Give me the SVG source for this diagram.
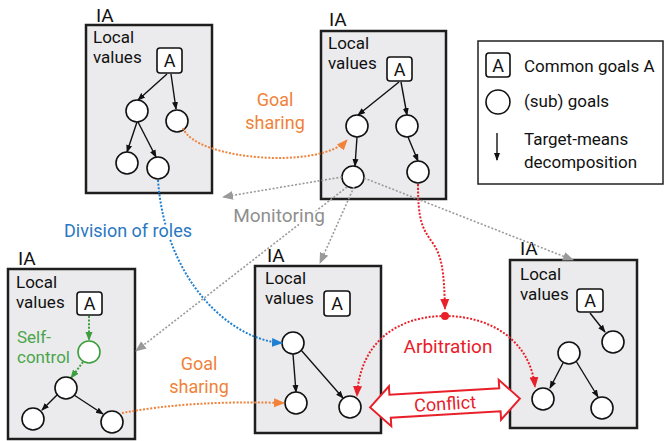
<svg xmlns="http://www.w3.org/2000/svg" width="666" height="441" viewBox="0 0 666 441">
<defs>
<style>
text{font-family:Roboto,"Liberation Sans",sans-serif}
.box{fill:#ebebed;stroke:#1e1e1e;stroke-width:2.5}
.ia{font-size:19px;fill:#111}
.lv{font-size:17px;fill:#111}
.ab{fill:#fff;stroke:#111;stroke-width:1.6}
.at{font-size:18px;fill:#111;text-anchor:middle}
.g{fill:#fff;stroke:#111;stroke-width:1.6}
.tr{fill:none;stroke:#111;stroke-width:1.4;marker-end:url(#mk)}
.or{fill:none;stroke:#f0823a;stroke-width:2;stroke-dasharray:2 1.6;marker-end:url(#mo)}
.bl{fill:none;stroke:#1f7fd0;stroke-width:2;stroke-dasharray:2 1.6;marker-end:url(#mb)}
.gr{fill:none;stroke:#9a9a9a;stroke-width:1.6;stroke-dasharray:2 1.8;marker-end:url(#mg)}
.rd{fill:none;stroke:#e8202a;stroke-width:2;stroke-dasharray:2 1.6;marker-end:url(#mr)}
.gn{fill:none;stroke:#3e9e3e;stroke-width:2;stroke-dasharray:2 1.6;marker-end:url(#mn)}
.lab{font-size:18px;text-anchor:middle}
.halo{stroke:#fff;stroke-width:4;paint-order:stroke}
</style>
<marker id="mk" markerWidth="8" markerHeight="8" refX="7" refY="4" orient="auto" markerUnits="userSpaceOnUse"><path d="M0,1 L8,4 L0,7 z" fill="#111"/></marker>
<marker id="mo" markerWidth="12" markerHeight="12" refX="10" refY="6" orient="auto" markerUnits="userSpaceOnUse"><path d="M0,1.5 L11,6 L0,10.5 z" fill="#f0823a"/></marker>
<marker id="mb" markerWidth="12" markerHeight="12" refX="10" refY="6" orient="auto" markerUnits="userSpaceOnUse"><path d="M0,1.5 L11,6 L0,10.5 z" fill="#1f7fd0"/></marker>
<marker id="mg" markerWidth="12" markerHeight="12" refX="10" refY="6" orient="auto" markerUnits="userSpaceOnUse"><path d="M0,1.5 L11,6 L0,10.5 z" fill="#9a9a9a"/></marker>
<marker id="mr" markerWidth="12" markerHeight="12" refX="10" refY="6" orient="auto" markerUnits="userSpaceOnUse"><path d="M0,1.5 L11,6 L0,10.5 z" fill="#e8202a"/></marker>
<marker id="mn" markerWidth="10" markerHeight="10" refX="8" refY="5" orient="auto" markerUnits="userSpaceOnUse"><path d="M0,1.5 L9,5 L0,8.5 z" fill="#3e9e3e"/></marker>
</defs>
<rect width="666" height="441" fill="#fff"/>

<g id="ia1">
<text class="ia" x="96" y="22">IA</text>
<rect class="box" x="86" y="25" width="126" height="168"/>
<text class="lv"><tspan x="93" y="42.5">Local</tspan><tspan x="93" y="62.5">values</tspan></text>
<rect class="ab" x="157" y="48" width="25" height="25" rx="3"/>
<text class="at" x="169.5" y="67">A</text>
<path class="tr" d="M167,74 L138,100"/>
<path class="tr" d="M171,74 L176,109"/>
<path class="tr" d="M137,122 L127,152"/>
<path class="tr" d="M138,122 L156,157"/>
<circle class="g" cx="137" cy="111" r="11"/>
<circle class="g" cx="177" cy="121" r="11"/>
<circle class="g" cx="127" cy="163" r="11"/>
<circle class="g" cx="158" cy="168" r="11"/>
</g>

<g id="ia2">
<text class="ia" x="329" y="26">IA</text>
<rect class="box" x="321" y="31" width="125" height="168"/>
<text class="lv"><tspan x="328" y="48.5">Local</tspan><tspan x="328" y="68.5">values</tspan></text>
<rect class="ab" x="387" y="57" width="25" height="24" rx="3"/>
<text class="at" x="399.5" y="76">A</text>
<path class="tr" d="M399,82 L358,115"/>
<path class="tr" d="M401,82 L407,115"/>
<path class="tr" d="M357,137 L355,166"/>
<path class="tr" d="M408,137 L418,161"/>
<circle class="g" cx="357" cy="126" r="11"/>
<circle class="g" cx="407" cy="126" r="11"/>
<circle class="g" cx="353" cy="177" r="11"/>
<circle class="g" cx="418" cy="172" r="11"/>
</g>

<g id="legend">
<rect x="478" y="41" width="185" height="143" fill="#fff" stroke="#222" stroke-width="1.5"/>
<rect class="ab" x="486" y="53" width="24" height="24" rx="3"/>
<text class="at" x="498" y="72">A</text>
<text class="lv" x="524" y="72">Common goals A</text>
<circle class="g" cx="498" cy="102" r="12"/>
<text class="lv" x="524" y="107">(sub) goals</text>
<path class="tr" d="M497,133 L497,160"/>
<text class="lv"><tspan x="524" y="145">Target-means</tspan><tspan x="524" y="168">decomposition</tspan></text>
</g>

<g id="ia3">
<text class="ia" x="18" y="265">IA</text>
<rect class="box" x="8" y="269" width="127" height="170"/>
<text class="lv"><tspan x="16" y="287.5">Local</tspan><tspan x="16" y="307.5">values</tspan></text>
<rect class="ab" x="77" y="292" width="25" height="23" rx="3"/>
<text class="at" x="89.5" y="310">A</text>
<text class="lv" style="fill:#4aa54a"><tspan x="17" y="343">Self-</tspan><tspan x="17" y="363">control</tspan></text>
<path class="gn" d="M89,316 L89,340"/>
<path class="gn" d="M83,362 L71,378"/>
<path class="tr" d="M59,393 L42,410"/>
<path class="tr" d="M74,395 L103,414"/>
<circle cx="89" cy="352" r="11" fill="#fff" stroke="#3e9e3e" stroke-width="1.6"/>
<circle class="g" cx="66" cy="388" r="11"/>
<circle class="g" cx="33" cy="419" r="11"/>
<circle class="g" cx="112" cy="422" r="11"/>
</g>

<g id="ia4">
<text class="ia" x="267" y="262">IA</text>
<rect class="box" x="255" y="266" width="126" height="167"/>
<text class="lv"><tspan x="265" y="283.5">Local</tspan><tspan x="265" y="303.5">values</tspan></text>
<rect class="ab" x="324" y="291" width="26" height="25" rx="3"/>
<text class="at" x="337" y="310">A</text>
<path class="tr" d="M293,354 L296,392"/>
<path class="tr" d="M301,350 L343,398"/>
<circle class="g" cx="293" cy="343" r="11"/>
<circle class="g" cx="296" cy="403" r="11"/>
<circle class="g" cx="350" cy="407" r="11"/>
</g>

<g id="ia5">
<text class="ia" x="520" y="255">IA</text>
<rect class="box" x="510" y="260" width="127" height="168"/>
<text class="lv"><tspan x="520" y="279.5">Local</tspan><tspan x="520" y="299.5">values</tspan></text>
<rect class="ab" x="577" y="289" width="26" height="23" rx="3"/>
<text class="at" x="590" y="307">A</text>
<path class="tr" d="M590,313 L605,332"/>
<path class="tr" d="M563,363 L550,388"/>
<path class="tr" d="M576,361 L598,397"/>
<circle class="g" cx="613" cy="342" r="11"/>
<circle class="g" cx="569" cy="353" r="11"/>
<circle class="g" cx="543" cy="399" r="11"/>
<circle class="g" cx="602" cy="408" r="11"/>
</g>

<g id="connectors">
<path class="or" d="M183,128 C195,160 320,170 347,140"/>
<path class="or" d="M122,413 Q190,400 284,403"/>
<path class="bl" d="M158,180 C165,280 230,340 282,343"/>
<path class="gr" d="M342,177 L223,197"/>
<path class="gr" d="M347,187 L136,351"/>
<path class="gr" d="M354,187 L320,263"/>
<path class="gr" d="M364,178 L573,260"/>
<path class="rd" d="M418,184 C418,220 422,228 432,242 C442,256 444,270 445,309"/>
<path class="rd" d="M445,316 C400,316 360,340 357,396"/>
<path class="rd" d="M445,316 C490,316 530,340 535,387"/>
<circle cx="445" cy="316" r="4" fill="#e8202a"/>
<polygon points="370,403 390,383 390,391.5 500,391.5 500,383 520,403 500,423 500,414.5 390,414.5 390,423" fill="#fff" stroke="#e8202a" stroke-width="2" transform="rotate(-3.4 445 403)"/>
</g>

<g id="labels">
<text class="lab" style="fill:#f0823a"><tspan x="275" y="106">Goal</tspan><tspan x="275" y="129">sharing</tspan></text>
<text class="lab" style="fill:#f0823a"><tspan x="199" y="370">Goal</tspan><tspan x="199" y="393">sharing</tspan></text>
<text class="lab halo" x="128" y="237" style="fill:#2a78c2">Division of roles</text>
<text class="lab halo" x="279" y="222" style="font-size:19px;fill:#8f8f8f">Monitoring</text>
<text class="lab" x="448" y="353" style="font-size:19px;fill:#e8202a">Arbitration</text>
<text class="lab" x="445" y="410" style="fill:#e8202a" transform="rotate(-3.4 445 403)">Conflict</text>
</g>
</svg>
